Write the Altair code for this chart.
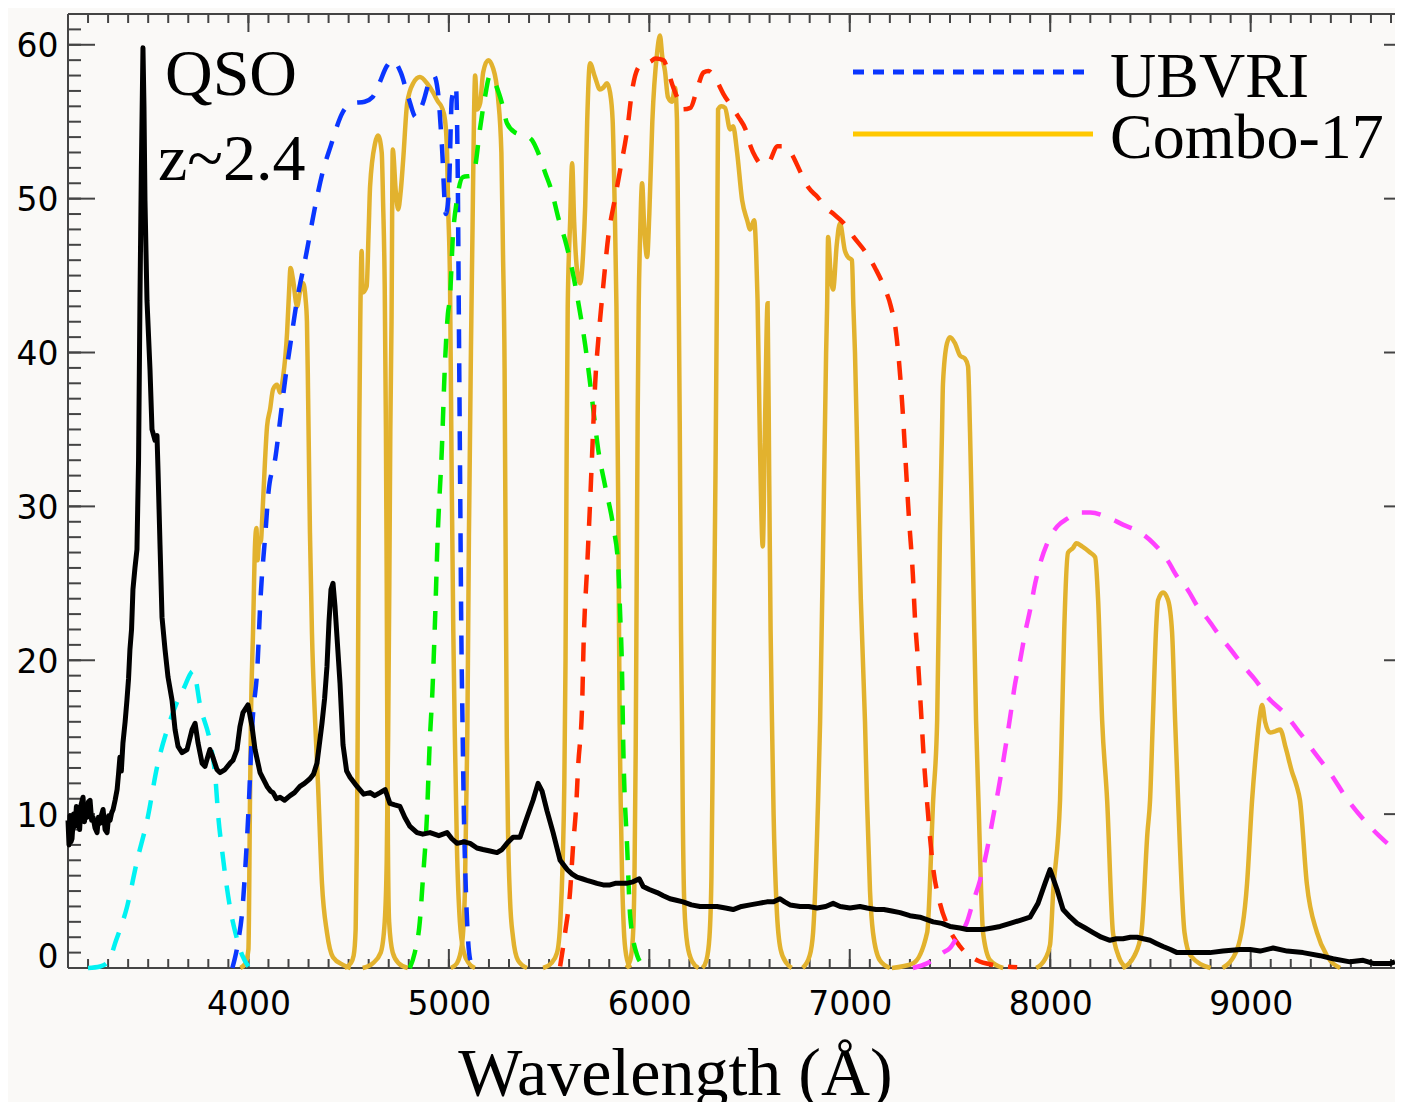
import altair as alt
import pandas as pd

# ---------------- data ----------------
X_DOMAIN = [3100, 9720]
Y_DOMAIN = [0, 62]
X_LABELS = [4000, 5000, 6000, 7000, 8000, 9000]
Y_LABELS = [0, 10, 20, 30, 40, 50, 60]
X_MINOR = list(range(3200, 9800, 100))
Y_MAJOR = [10, 20, 30, 40, 50, 60]
Y_MINOR = list(range(1, 62))

QSO = [(3100, 9.6), (3105, 8.0), (3110, 9.9), (3115, 8.2), (3120, 8.4), (3128, 10.0), (3135, 9.2),
       (3142, 10.5), (3150, 10.3), (3158, 9.0), (3165, 10.6), (3175, 11.1), (3182, 9.5), (3188, 10.2),
       (3195, 9.8), (3202, 10.8), (3210, 10.9), (3218, 9.6), (3225, 9.8), (3235, 9.1), (3245, 8.8),
       (3252, 9.8), (3260, 9.4), (3268, 10.0), (3275, 10.3), (3285, 9.0), (3295, 8.8), (3303, 9.9),
       (3310, 9.6), (3318, 10.1), (3325, 10.3), (3335, 10.9), (3345, 11.6), (3352, 12.6), (3359, 13.7),
       (3366, 12.8), (3374, 14.6), (3385, 16.0), (3394, 17.4), (3402, 18.8), (3409, 20.7), (3417, 22.0),
       (3424, 24.6), (3434, 26.0), (3444, 27.2), (3452, 33.0), (3459, 43.4), (3466, 52.0), (3474, 59.8),
       (3479, 56.0), (3484, 49.9), (3494, 43.4), (3509, 38.9), (3519, 35.0), (3534, 34.3), (3544, 34.6),
       (3549, 32.4), (3559, 27.5), (3569, 22.8), (3584, 20.7), (3599, 18.9), (3619, 17.4), (3634, 15.5),
       (3649, 14.4), (3669, 14.0), (3694, 14.2), (3719, 15.5), (3734, 15.9), (3749, 14.6), (3769, 13.3),
       (3783, 13.1), (3808, 14.2), (3823, 13.7), (3843, 12.9), (3858, 12.7), (3883, 12.9), (3908, 13.3),
       (3923, 13.5), (3943, 14.2), (3958, 15.7), (3973, 16.6), (3998, 17.1), (4018, 15.7), (4033, 14.2),
       (4058, 12.7), (4093, 11.8), (4110, 11.5), (4123, 11.4), (4140, 11.0), (4158, 11.1), (4180, 10.9),
       (4208, 11.2), (4230, 11.4), (4257, 11.8), (4280, 12.0), (4307, 12.3), (4325, 12.6), (4342, 13.3),
       (4367, 15.9), (4380, 17.5), (4392, 19.6), (4402, 22.5), (4412, 24.6), (4422, 25.0),
       (4432, 23.5), (4442, 21.5), (4457, 18.5), (4472, 14.5), (4490, 12.8), (4507, 12.4), (4542, 11.8),
       (4575, 11.3), (4607, 11.4), (4630, 11.2), (4657, 11.4), (4682, 11.6), (4706, 10.7), (4730, 10.6),
       (4756, 10.5), (4780, 9.8), (4806, 9.2), (4841, 8.8), (4870, 8.7), (4906, 8.8), (4950, 8.6),
       (4991, 8.8), (5015, 8.4), (5041, 8.1), (5075, 8.2), (5106, 8.1), (5140, 7.8), (5170, 7.7),
       (5205, 7.6), (5240, 7.5), (5265, 7.7), (5290, 8.1), (5320, 8.5), (5355, 8.5), (5390, 9.8),
       (5420, 10.9), (5445, 12.0), (5465, 11.5), (5490, 10.2), (5520, 8.8), (5555, 7.0), (5590, 6.4),
       (5615, 6.1), (5639, 5.9), (5665, 5.8), (5689, 5.7), (5715, 5.6), (5739, 5.5), (5770, 5.4),
       (5804, 5.4), (5830, 5.5), (5854, 5.5), (5885, 5.5), (5919, 5.6), (5950, 5.8), (5969, 5.3),
       (6000, 5.1), (6039, 4.9), (6070, 4.7), (6103, 4.5), (6135, 4.4), (6168, 4.3), (6210, 4.1),
       (6253, 4.0), (6295, 4.0), (6338, 4.0), (6380, 3.9), (6418, 3.8), (6460, 4.0), (6503, 4.1),
       (6545, 4.2), (6587, 4.3), (6620, 4.3), (6652, 4.5), (6675, 4.3), (6702, 4.1), (6752, 4.0),
       (6795, 4.0), (6837, 3.9), (6880, 4.0), (6917, 4.2), (6952, 4.0), (7001, 3.9), (7051, 4.0),
       (7086, 3.9), (7130, 3.8), (7170, 3.8), (7210, 3.7), (7251, 3.6), (7300, 3.4), (7350, 3.3),
       (7416, 3.0), (7460, 2.9), (7500, 2.7), (7550, 2.6), (7585, 2.5), (7625, 2.5), (7665, 2.5),
       (7710, 2.6), (7750, 2.7), (7800, 2.9), (7850, 3.1), (7899, 3.3), (7939, 4.2), (7974, 5.5),
       (7999, 6.4), (8034, 5.1), (8064, 3.8), (8100, 3.3), (8134, 2.9), (8175, 2.6), (8214, 2.3),
       (8255, 2.0), (8298, 1.8), (8330, 1.9), (8363, 1.9), (8400, 2.0), (8433, 2.0), (8465, 1.9),
       (8498, 1.8), (8530, 1.6), (8563, 1.4), (8600, 1.2), (8633, 1.0), (8713, 1.0), (8797, 1.0),
       (8862, 1.1), (8947, 1.2), (8997, 1.2), (9047, 1.1), (9112, 1.3), (9182, 1.1), (9261, 1.0),
       (9346, 0.8), (9411, 0.6), (9496, 0.4), (9561, 0.5), (9611, 0.3), (9696, 0.3), (9720, 0.4)]

U_BAND = [(3200, 0), (3260, 0.1), (3300, 0.4), (3340, 1.8), (3395, 4.0), (3445, 7.0), (3495, 9.6),
          (3545, 13.1), (3600, 15.7), (3645, 17.3), (3675, 18.1), (3725, 19.3), (3760, 17.0), (3810, 14.6),
          (3835, 12.4), (3850, 9.8), (3870, 7.5), (3910, 3.8), (3935, 2.3), (3970, 0.8), (4000, 0.1)]

B_BAND = [(3920, 0), (3950, 1.8), (3970, 3.8), (3985, 6.6), (4000, 10.1), (4020, 15.9), (4045, 19.6),
          (4060, 23.9), (4085, 28.3), (4100, 30.9), (4135, 33.2), (4160, 35.8), (4185, 38.4), (4210, 40.6),
          (4235, 42.8), (4290, 46.5), (4330, 49.3), (4370, 51.7), (4410, 53.4), (4470, 55.6), (4520, 56.2),
          (4580, 56.3), (4620, 56.6), (4650, 57.4), (4690, 58.6), (4720, 59.0), (4760, 58.2), (4800, 56.5),
          (4835, 55.3), (4870, 56.2), (4905, 57.7), (4925, 58.0), (4945, 57.0), (4965, 53.5), (4985, 49.0),
          (5000, 50.5), (5015, 56.5), (5035, 57.3), (5044, 52.0), (5050, 42.0), (5056, 32.0), (5062, 22.0),
          (5068, 16.0), (5075, 10.0), (5085, 5.0), (5095, 2.0), (5110, 0.3)]

V_BAND = [(4805, 0), (4830, 1.0), (4855, 3.0), (4870, 5.7), (4890, 9.7), (4905, 14.8), (4918, 18.0),
          (4930, 22.2), (4945, 28.3), (4965, 33.7), (4980, 39.1), (4995, 42.5), (5005, 43.5), (5020, 47.5),
          (5040, 49.9), (5070, 51.4), (5115, 51.5), (5130, 52.0), (5155, 54.5), (5180, 56.6), (5205, 58.0),
          (5240, 57.2), (5265, 56.2), (5290, 54.9), (5330, 54.3), (5380, 54.1), (5415, 53.8), (5445, 53.0),
          (5480, 51.7), (5515, 50.4), (5545, 48.8), (5580, 47.3), (5615, 45.4), (5645, 43.3), (5680, 40.5),
          (5715, 36.9), (5745, 33.7), (5780, 31.3), (5820, 28.7), (5845, 26.1), (5855, 22.8), (5863, 19.8),
          (5870, 14.5), (5890, 7.7), (5905, 3.3), (5940, 0.8), (5970, 0.2)]

R_BAND = [(5555, 0.1), (5580, 2.3), (5605, 5.0), (5620, 8.0), (5635, 10.5), (5645, 13.1), (5665, 17.2),
          (5672, 21.0), (5690, 26.1), (5705, 30.4), (5715, 33.5), (5730, 38.0), (5750, 41.5), (5770, 44.3),
          (5795, 47.5), (5830, 50.1), (5855, 51.9), (5890, 54.5), (5915, 57.1), (5940, 58.4), (5970, 58.8),
          (6005, 58.9), (6030, 59.1), (6070, 59.0), (6095, 58.2), (6120, 57.2), (6145, 56.4), (6165, 55.8),
          (6205, 55.9), (6240, 57.2), (6270, 58.2), (6295, 58.3), (6330, 57.8), (6370, 56.8), (6415, 55.9),
          (6445, 55.3), (6480, 54.5), (6505, 53.4), (6530, 52.7), (6555, 52.3), (6590, 52.3), (6640, 53.4),
          (6670, 53.4), (6705, 53.0), (6755, 51.7), (6795, 50.7), (6840, 50.1), (6880, 49.4), (6920, 49.0),
          (6970, 48.4), (7020, 47.5), (7080, 46.5), (7130, 45.4), (7170, 44.3), (7205, 43.0), (7230, 41.4),
          (7245, 39.5), (7265, 36.0), (7280, 32.6), (7295, 29.3), (7315, 25.5), (7325, 22.8), (7340, 20.0),
          (7355, 16.8), (7370, 13.5), (7385, 10.9), (7415, 6.6), (7450, 4.2), (7490, 2.7), (7550, 1.4),
          (7635, 0.5), (7715, 0.2), (7835, 0.05)]

I_BAND = [(7315, 0), (7385, 0.3), (7465, 1.0), (7500, 1.3), (7535, 2.0), (7585, 3.0), (7615, 4.3),
          (7650, 5.7), (7685, 7.7), (7715, 9.8), (7740, 11.5), (7770, 13.8), (7800, 16.3), (7825, 18.5),
          (7850, 20.0), (7875, 21.8), (7900, 23.3), (7925, 25.0), (7950, 26.3), (7985, 27.6), (8035, 28.7),
          (8085, 29.2), (8150, 29.6), (8200, 29.6), (8285, 29.3), (8365, 28.8), (8450, 28.3), (8515, 27.6),
          (8585, 26.5), (8635, 25.4), (8685, 24.6), (8735, 23.5), (8790, 22.6), (8850, 21.5), (8900, 20.7),
          (8965, 19.6), (9025, 18.7), (9085, 17.6), (9165, 16.6), (9250, 15.2), (9330, 13.8), (9400, 12.6),
          (9480, 11.0), (9560, 9.7), (9640, 8.6), (9700, 7.9), (9720, 7.7)]

COMBO_1 = [(3960, 0), (3985, 0.3), (4000, 1.2), (4008, 11.0), (4013, 16.5), (4023, 21.8), (4033, 27.5),
           (4040, 28.6), (4046, 26.5), (4052, 27.5), (4063, 27.8), (4070, 29.5), (4083, 33.0), (4093, 35.2),
           (4108, 36.3), (4123, 37.6), (4143, 37.9), (4158, 37.4), (4173, 38.4), (4193, 41.3), (4203, 44.0),
           (4210, 45.5), (4222, 44.8), (4243, 43.0), (4258, 44.0), (4273, 44.5), (4285, 43.5), (4292, 42.0),
           (4298, 37.0), (4307, 28.3), (4317, 21.8), (4332, 16.3), (4347, 12.0), (4367, 5.5), (4392, 2.3),
           (4422, 0.7), (4472, 0.2), (4510, 0)]
COMBO_2 = [(4480, 0), (4510, 0.3), (4525, 0.8), (4535, 2.5), (4541, 8), (4545, 15), (4549, 25), (4553, 35),
           (4558, 42), (4565, 46.6), (4570, 43.9), (4590, 44.3), (4600, 48.0), (4607, 50.8), (4632, 53.6),
           (4647, 54.1), (4665, 53.0), (4672, 49.7), (4680, 44.3), (4686, 35), (4690, 25), (4693, 15),
           (4696, 8), (4702, 3), (4720, 1), (4750, 0.3), (4795, 0)]
COMBO_3 = [(4570, 0), (4620, 0.3), (4660, 1), (4680, 3), (4690, 7), (4697, 15), (4703, 25), (4708, 35),
           (4714, 42), (4720, 53.2), (4735, 50.5), (4747, 49.3), (4760, 50.5), (4772, 52.5), (4792, 56.2),
           (4822, 57.5), (4856, 57.9), (4891, 57.5), (4921, 56.9), (4946, 56.3), (4966, 55.9), (4981, 55.1),
           (4991, 53.0), (4996, 49.7), (5006, 44.3), (5014, 32), (5022, 22), (5030, 15), (5040, 8),
           (5055, 3), (5075, 1), (5100, 0.3), (5130, 0)]
COMBO_4 = [(5010, 0), (5040, 0.3), (5065, 1.5), (5080, 5), (5092, 15), (5100, 28), (5110, 40), (5118, 48),
           (5125, 55), (5131, 58.0), (5141, 55.8), (5156, 56.2), (5171, 58.2), (5196, 59.0), (5220, 58.5),
           (5245, 56.6), (5262, 53.0), (5270, 46.5), (5278, 39), (5284, 25), (5289, 15), (5295, 9),
           (5305, 4.5), (5320, 2), (5345, 0.5), (5390, 0)]
COMBO_5 = [(5470, 0), (5510, 0.3), (5540, 1), (5556, 3), (5568, 7), (5576, 12), (5582, 20), (5587, 32),
           (5593, 43), (5605, 48.5), (5615, 52.3), (5625, 48.5), (5640, 45.3), (5655, 44.5), (5670, 46.5),
           (5680, 49.5), (5690, 55.0), (5704, 58.8), (5729, 57.9), (5754, 57.1), (5769, 57.2), (5789, 57.5),
           (5804, 56.9), (5817, 55.1), (5827, 49.7), (5836, 43), (5845, 30), (5852, 16), (5857, 11),
           (5864, 6), (5873, 2.5), (5885, 0.8), (5905, 0)]
COMBO_6 = [(5885, 0), (5905, 0.5), (5918, 2), (5926, 6), (5932, 14), (5937, 25), (5942, 36), (5947, 43),
           (5954, 47.5), (5964, 51.0), (5975, 48), (5989, 46.2), (6000, 49), (6015, 55), (6039, 59.5),
           (6053, 60.6), (6065, 59.2), (6078, 58.3), (6093, 56.6), (6113, 56.3), (6128, 57.2), (6138, 55.1),
           (6143, 48.6), (6147, 43), (6152, 35), (6158, 22), (6163, 16), (6167, 10), (6175, 4), (6190, 1.5),
           (6215, 0.4), (6245, 0)]
COMBO_7 = [(6265, 0), (6285, 0.5), (6300, 2), (6310, 6), (6318, 16), (6330, 32), (6338, 45), (6343, 55.8),
           (6360, 56.0), (6378, 55.9), (6403, 54.5), (6418, 54.7), (6438, 53.0), (6463, 49.9), (6488, 48.6),
           (6503, 48.0), (6523, 48.6), (6533, 46.5), (6540, 43.4), (6552, 34), (6566, 27.4), (6578, 36),
           (6590, 43.2), (6598, 32), (6605, 22), (6612, 16), (6620, 10), (6635, 4), (6655, 1.2), (6685, 0.3),
           (6710, 0)]
COMBO_8 = [(6765, 0), (6800, 0.8), (6817, 2.3), (6842, 10.9), (6852, 16), (6870, 30), (6882, 40), (6887, 43),
           (6892, 47.5), (6905, 45), (6917, 44.1), (6935, 47), (6951, 48.4), (6976, 46.6), (6991, 46.2),
           (7011, 46.0), (7018, 43), (7026, 40), (7040, 32), (7055, 24), (7076, 16), (7086, 10.9),
           (7101, 5), (7116, 2.3), (7150, 0.5), (7200, 0)]
COMBO_9 = [(7210, 0), (7316, 0.3), (7386, 2.3), (7416, 10.9), (7436, 16.1), (7450, 28.3), (7460, 34.8),
           (7465, 38.0), (7485, 40.6), (7500, 41.0), (7525, 40.6), (7550, 39.8), (7575, 39.6), (7590, 39.1),
           (7600, 34.8), (7615, 26.1), (7630, 16.1), (7642, 10.9), (7665, 2.3), (7700, 0.5), (7765, 0)]
COMBO_10 = [(7930, 0), (7975, 0.6), (7999, 1.5), (8015, 5), (8049, 10.9), (8059, 16.1), (8070, 22),
            (8089, 27.0), (8114, 27.3), (8130, 27.6), (8159, 27.4), (8199, 27.0), (8224, 26.7), (8239, 23.9),
            (8259, 16.1), (8284, 10.9), (8313, 2.3), (8340, 0.8), (8380, 0)]
COMBO_11 = [(8360, 0), (8420, 0.8), (8455, 2.3), (8485, 8.8), (8498, 10.9), (8512, 16.1), (8528, 22),
            (8538, 23.9), (8563, 24.4), (8588, 23.9), (8608, 21.8), (8623, 16.1), (8638, 10.9), (8670, 2.3),
            (8700, 0.8), (8800, 0)]
COMBO_12 = [(8860, 0), (8932, 1.2), (8982, 5.5), (9007, 10.9), (9030, 14.5), (9045, 16.3), (9057, 17.1),
            (9072, 16.0), (9097, 15.3), (9125, 15.4), (9147, 15.5), (9175, 14.3), (9205, 12.8), (9230, 11.8),
            (9246, 10.9), (9280, 5.5), (9331, 2.3), (9380, 0.8), (9446, 0)]

BAND_NAMES = ["U", "B", "V", "R", "I"]
BAND_COLORS = ["#00F2F2", "#0A36FF", "#00F000", "#FF2A00", "#FF40FF"]
GOLD = "#E2B22E"
LEGEND_GOLD = "#FFC800"
TICK = "#444444"

# ---------------- build tables ----------------
def frame(pairs, name):
    return pd.DataFrame({"lam": [p[0] for p in pairs], "val": [p[1] for p in pairs], "series": name})

qso_df = frame(QSO, "qso")
band_df = pd.concat([frame(b, n) for b, n in zip([U_BAND, B_BAND, V_BAND, R_BAND, I_BAND], BAND_NAMES)])
combo_list = [COMBO_1, COMBO_2, COMBO_3, COMBO_4, COMBO_5, COMBO_6, COMBO_7, COMBO_8, COMBO_9,
              COMBO_10, COMBO_11, COMBO_12]
combo_df = pd.concat([frame(c, f"c{i + 1}") for i, c in enumerate(combo_list)])

W, H = 1327, 954
RIGHT = W + 16          # the frame's right edge sits just outside the picture
xs = alt.Scale(domain=X_DOMAIN, nice=False, zero=False)
ys = alt.Scale(domain=Y_DOMAIN, nice=False, zero=False)
LABEL_FONT = "DejaVu Sans"
SERIF = "Liberation Serif"


def xticks(values, y0, y1):
    return alt.Chart(pd.DataFrame({"v": values})).mark_rule(color=TICK, strokeWidth=2).encode(
        x=alt.X("v:Q", scale=xs, axis=None), y=alt.value(y0), y2=alt.value(y1))


def yticks(values, x0, x1):
    return alt.Chart(pd.DataFrame({"v": values})).mark_rule(color=TICK, strokeWidth=2).encode(
        y=alt.Y("v:Q", scale=ys, axis=None), x=alt.value(x0), x2=alt.value(x1))


one = pd.DataFrame({"a": [0]})
frame_left = alt.Chart(one).mark_rule(color=TICK, strokeWidth=2).encode(
    x=alt.value(0), y=alt.value(0), y2=alt.value(H))
frame_bottom = alt.Chart(one).mark_rule(color=TICK, strokeWidth=2).encode(
    x=alt.value(0), x2=alt.value(RIGHT), y=alt.value(H))
frame_top = alt.Chart(one).mark_rule(color=TICK, strokeWidth=2).encode(
    x=alt.value(0), x2=alt.value(RIGHT), y=alt.value(0))

ticks = [
    xticks(X_LABELS, H, H - 19), xticks(X_MINOR, H, H - 9),
    xticks(X_LABELS, 0, 18), xticks(X_MINOR, 0, 9),
    yticks(Y_MAJOR, 0, 27), yticks(Y_MINOR, 0, 13),
    yticks(Y_MAJOR, RIGHT, RIGHT - 27), yticks(Y_MINOR, RIGHT, RIGHT - 13),
]

combo = alt.Chart(combo_df).mark_line(color=GOLD, strokeWidth=4.5, interpolate="monotone").encode(
    x=alt.X("lam:Q", scale=xs, axis=None),
    y=alt.Y("val:Q", scale=ys, axis=None),
    detail="series:N",
)

bands = alt.Chart(band_df).mark_line(strokeWidth=4.5, strokeDash=[19, 15], interpolate="monotone").encode(
    x=alt.X("lam:Q", scale=xs, axis=None),
    y=alt.Y("val:Q", scale=ys, axis=None),
    color=alt.Color("series:N", scale=alt.Scale(domain=BAND_NAMES, range=BAND_COLORS), legend=None),
)

qso = alt.Chart(qso_df).mark_line(color="black", strokeWidth=5, strokeJoin="round").encode(
    x=alt.X("lam:Q", scale=xs, axis=alt.Axis(
        orient="bottom",
        values=X_LABELS, format="d", ticks=False, tickSize=0, domain=False, grid=False,
        labelFont=LABEL_FONT, labelFontSize=33, labelColor="black", labelPadding=20,
        labelOverlap=False, labelFlush=False,
        title="Wavelength (Å)", titleFont=SERIF, titleFontSize=68, titleFontWeight="normal",
        titleColor="black", titleX=607, titleY=126, titleAlign="center", titleBaseline="alphabetic")),
    y=alt.Y("val:Q", scale=ys, axis=alt.Axis(
        orient="left",
        values=Y_LABELS, format="d", ticks=False, tickSize=0, domain=False, grid=False,
        labelFont=LABEL_FONT, labelFontSize=33, labelColor="black", labelPadding=10,
        labelOverlap=False, labelFlush=False,
        labelOffset={"condition": {"test": "datum.value === 0", "value": -11}, "value": 2},
        title=None)),
)


def text(t, x, y, size):
    return alt.Chart(one).mark_text(text=t, font=SERIF, fontSize=size, align="left",
                                    baseline="alphabetic", color="black").encode(
        x=alt.value(x), y=alt.value(y))


leg_blue = alt.Chart(one).mark_rule(color=BAND_COLORS[1], strokeWidth=5, strokeDash=[11, 9]).encode(
    x=alt.value(785), x2=alt.value(1025), y=alt.value(58))
leg_gold = alt.Chart(one).mark_rule(color=LEGEND_GOLD, strokeWidth=5).encode(
    x=alt.value(785), x2=alt.value(1025), y=alt.value(120))

chart = alt.layer(
    *ticks, frame_left, frame_bottom, frame_top,
    combo, bands, qso,
    text("QSO", 97, 81, 66), text("z~2.4", 90, 166, 66),
    leg_blue, leg_gold,
    text("UBVRI", 1042, 83, 64), text("Combo-17", 1042, 144, 64),
).resolve_axis(x="independent", y="independent").properties(
    width=W, height=H,
    padding={"left": 60, "top": 6, "right": 0, "bottom": 134},
    autosize=alt.AutoSizeParams(type="none"),
).configure(background="#FAF9F7").configure_view(stroke=None)

chart.save("out.html", embed_options={"renderer": "svg", "actions": False})
